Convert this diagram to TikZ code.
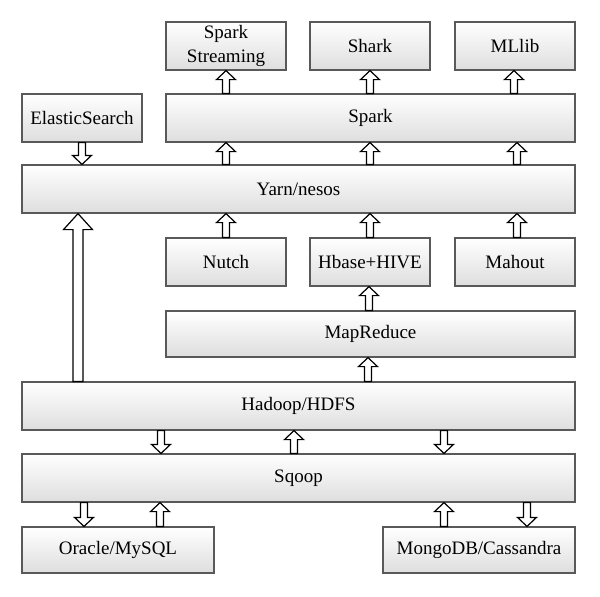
\documentclass[tikz,border=0pt]{standalone}
\usepackage{fontspec}
\setmainfont{Liberation Serif}
\usetikzlibrary{calc}

\tikzset{
	layer/.style={draw=black!65, line width=0.6pt, top color=white, bottom color=black!13,
		minimum height=24pt, inner sep=0pt, align=center, font=\fontsize{9.5}{12}\selectfont},
	arrowline/.style={draw=black, line width=0.6pt, fill=white}
}

% hollow block arrow: tail, tip, shaft half width, head half width, head length
\newcommand{\hollowarrow}[5]{%
	\draw[arrowline] let \p1=(#1), \p2=(#2), \n1={ifthenelse(\y2>\y1,#5,-#5)} in
		(\x1-#3,\y1) -- (\x1-#3,\y2-\n1) -- (\x1-#4,\y2-\n1) -- (\x1,\y2)
		-- (\x1+#4,\y2-\n1) -- (\x1+#3,\y2-\n1) -- (\x1+#3,\y1) -- cycle;}

\begin{document}
\begin{tikzpicture}[x=0.5pt, y=-0.5pt]
	\useasboundingbox (0,0) rectangle (600,596);
	\node[layer, minimum width=60pt] (sstream) at (226, 46) {Spark\\Streaming};
	\node[layer, minimum width=60pt] (shark) at (370, 46) {Shark};
	\node[layer, minimum width=60pt] (mllib) at (515, 46) {MLlib};
	\node[layer, minimum width=60pt] (elastic) at (82, 118) {ElasticSearch};
	\node[layer, minimum width=204.5pt] (spark) at (370.5, 118) {Spark};
	\node[layer, minimum width=276.5pt] (yarn) at (298.5, 189) {Yarn/nesos};
	\node[layer, minimum width=60pt] (nutch) at (226, 262) {Nutch};
	\node[layer, minimum width=60pt] (hbase) at (370, 262) {Hbase+HIVE};
	\node[layer, minimum width=60pt] (mahout) at (515, 262) {Mahout};
	\node[layer, minimum width=204.5pt, minimum height=23pt] (mapred) at (370.5, 334) {MapReduce};
	\node[layer, minimum width=276.5pt] (hadoop) at (298.5, 406) {Hadoop/HDFS};
	\node[layer, minimum width=276.5pt] (sqoop) at (298.5, 478) {Sqoop};
	\node[layer, minimum width=96pt, minimum height=23pt] (oracle) at (118, 550) {Oracle/MySQL};
	\node[layer, minimum width=96pt, minimum height=23pt] (mongo) at (479, 550) {MongoDB/Cassandra};

	\foreach \pos/\from/\to in {226/spark/sstream, 370/spark/shark, 514/spark/mllib,
		226/yarn/spark, 370/yarn/spark, 517/yarn/spark,
		226/nutch/yarn, 370/hbase/yarn, 517/mahout/yarn,
		369/mapred/hbase, 368/hadoop/mapred, 294/sqoop/hadoop,
		160/oracle/sqoop, 444/mongo/sqoop}
		\hollowarrow{\pos,0 |- \from.north}{\pos,0 |- \to.south}{1.75pt}{4.75pt}{4.5pt};
	\foreach \pos/\from/\to in {82/elastic/yarn, 161/hadoop/sqoop, 444/hadoop/sqoop,
		84/sqoop/oracle, 527/sqoop/mongo}
		\hollowarrow{\pos,0 |- \from.south}{\pos,0 |- \to.north}{1.75pt}{4.75pt}{4.5pt};
	\hollowarrow{78,0 |- hadoop.north}{78,0 |- yarn.south}{2.5pt}{7.25pt}{8pt};
\end{tikzpicture}
\end{document}
